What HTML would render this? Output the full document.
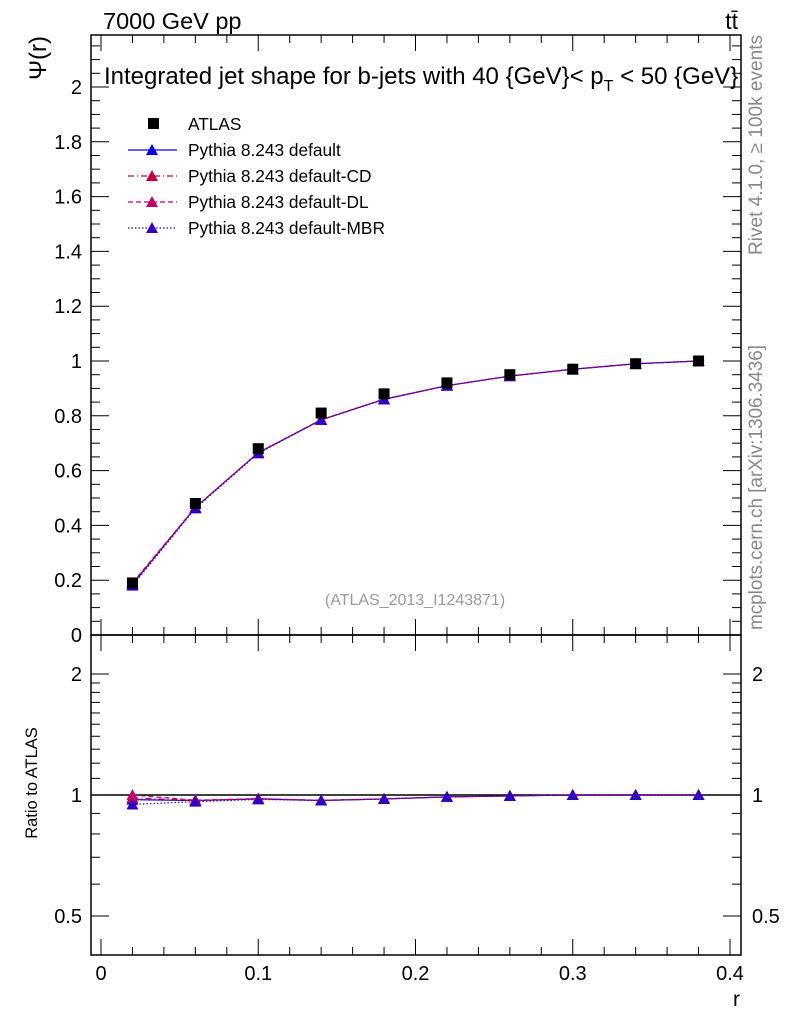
<!DOCTYPE html>
<html><head><meta charset="utf-8"><style>
body{margin:0;background:#fff;}
svg{font-family:"Liberation Sans",sans-serif;}
</style></head><body>
<svg id="c" width="786" height="1024" viewBox="0 0 786 1024" xmlns="http://www.w3.org/2000/svg">
<text x="103" y="29" font-size="23.5">7000 GeV pp</text>
<text x="738" y="29" font-size="23" text-anchor="end">tt̄</text>
<text x="104" y="84" font-size="24">Integrated jet shape for b-jets with 40 {GeV}&lt; p<tspan font-size="16" dy="7">T</tspan><tspan dy="-7"> &lt; 50 {GeV}</tspan></text>
<text x="415" y="605" font-size="16" fill="#999" text-anchor="middle">(ATLAS_2013_I1243871)</text>
<text transform="translate(762,255) rotate(-90)" font-size="19" fill="#888" textLength="220">Rivet 4.1.0, ≥ 100k events</text>
<text transform="translate(762,630) rotate(-90)" font-size="19" fill="#888" textLength="285">mcplots.cern.ch [arXiv:1306.3436]</text>
<text transform="translate(46,36) rotate(-90)" font-size="24" text-anchor="end">Ψ(r)</text>
<text transform="translate(37,783) rotate(-90)" font-size="16.5" text-anchor="middle">Ratio to ATLAS</text>
<text x="740" y="1006" font-size="21" text-anchor="end">r</text>
<g id="g"></g>
</svg>
<script>
const xs=[0.02,0.06,0.10,0.14,0.18,0.22,0.26,0.30,0.34,0.38];
const atlas=[0.19,0.48,0.68,0.81,0.88,0.92,0.95,0.97,0.99,1.0];
const mcDefault=[0.185,0.465,0.665,0.785,0.86,0.91,0.945,0.97,0.99,1.0];
const mcCD=[0.187,0.465,0.666,0.785,0.861,0.91,0.945,0.97,0.99,1.0];
const mcDL=[0.19,0.466,0.666,0.786,0.861,0.91,0.945,0.97,0.99,1.0];
const mcMBR=[0.18,0.462,0.663,0.785,0.86,0.91,0.945,0.97,0.99,1.0];
const xTicks=[0,0.1,0.2,0.3,0.4];
const yTicks=[0,0.2,0.4,0.6,0.8,1,1.2,1.4,1.6,1.8,2];
const rTicks=[0.5,1,2];
const NS="http://www.w3.org/2000/svg";
const g=document.getElementById('g');
const X=v=>101+v*1572.5;
const Y=v=>635-v*274;
const R=v=>795-121*Math.log2(v);
function el(t,a,p){const e=document.createElementNS(NS,t);for(const k in a)e.setAttribute(k,a[k]);(p||g).appendChild(e);return e;}
let f=el('rect',{x:91,y:35,width:650,height:600,fill:'none',stroke:'#000','stroke-width':1.5});


f=el('rect',{x:91,y:635,width:650,height:320,fill:'none',stroke:'#000','stroke-width':1.5});


for(let v=0;v<=0.41;v+=0.02){const maj=Math.abs(v*10-Math.round(v*10))<1e-6;const L=maj?16:8;
 for(const [y0,d] of [[635,-1],[35,1],[955,-1],[635,1]]) el('line',{x1:X(v),x2:X(v),y1:y0,y2:y0+d*L,stroke:'#000'});}
xTicks.forEach(v=>{const t=el('text',{x:X(v),y:980,'font-size':20,'text-anchor':'middle'});t.textContent=String(v);

});
for(let i=0;i*0.05<=2.2;i++){const v=i*0.05;const maj=i%4==0;const L=maj?18:9;const y=Y(v);if(y<35)break;
 el('line',{x1:91,x2:91+L,y1:y,y2:y,stroke:'#000'});el('line',{x1:741,x2:741-L,y1:y,y2:y,stroke:'#000'});}
yTicks.forEach(v=>{const t=el('text',{x:82,y:Y(v)+7,'font-size':20,'text-anchor':'end'});t.textContent=String(v);

});
[0.5,0.6,0.7,0.8,0.9,1,1.1,1.2,1.3,1.4,1.5,1.6,1.7,1.8,1.9,2].forEach(v=>{const maj=rTicks.includes(v);const L=maj?18:9;const y=R(v);
 el('line',{x1:91,x2:91+L,y1:y,y2:y,stroke:'#000'});el('line',{x1:741,x2:741-L,y1:y,y2:y,stroke:'#000'});});
rTicks.forEach(v=>{for(const [x,a] of [[82,'end'],[752,'start']]){const t=el('text',{x:x,y:R(v)+7,'font-size':20,'text-anchor':a});t.textContent=String(v);

}});
el('line',{x1:91,x2:741,y1:R(1),y2:R(1),stroke:'#000','stroke-width':1.5});
const series=[
 {name:'default',d:mcDefault,c:'#0000e0',dash:''},
 {name:'default-CD',d:mcCD,c:'#c0003a',dash:'6,3,1,3'},
 {name:'default-DL',d:mcDL,c:'#c0006a',dash:'5,3'},
 {name:'default-MBR',d:mcMBR,c:'#3000c0',dash:'1.5,2'}];
function tri(x,y,c,n){const p=el('polygon',{points:`${x-6},${y+5} ${x+6},${y+5} ${x},${y-6}`,fill:c});

}
series.forEach(s=>{
 const pl=el('polyline',{points:xs.map((x,i)=>X(x)+','+Y(s.d[i])).join(' '),fill:'none',stroke:s.c,'stroke-width':1.2,'stroke-dasharray':s.dash});
 
 
 const rl=el('polyline',{points:xs.map((x,i)=>X(x)+','+R(s.d[i]/atlas[i])).join(' '),fill:'none',stroke:s.c,'stroke-width':1.2,'stroke-dasharray':s.dash});
 
 
 xs.forEach((x,i)=>{tri(X(x),Y(s.d[i]),s.c,'marker-'+s.name);tri(X(x),R(s.d[i]/atlas[i]),s.c,'ratio-marker-'+s.name);});
});
xs.forEach((x,i)=>{const r=el('rect',{x:X(x)-5.5,y:Y(atlas[i])-5.5,width:11,height:11,fill:'#000'});

});
const lg=el('g',{});


el('rect',{x:148,y:118,width:11,height:11,fill:'#000'},lg);
let t=el('text',{x:188,y:130,'font-size':17.3},lg);t.textContent='ATLAS';
series.forEach((s,i)=>{const y=150+i*26;
 el('line',{x1:128,x2:177,y1:y,y2:y,stroke:s.c,'stroke-width':1.2,'stroke-dasharray':s.dash},lg);
 el('polygon',{points:`${152-6},${y+5} ${152+6},${y+5} ${152},${y-6}`,fill:s.c},lg);
 const tx=el('text',{x:188,y:y+6,'font-size':17.3},lg);tx.textContent='Pythia 8.243 '+s.name;
 
 });
</script>
</body></html>
